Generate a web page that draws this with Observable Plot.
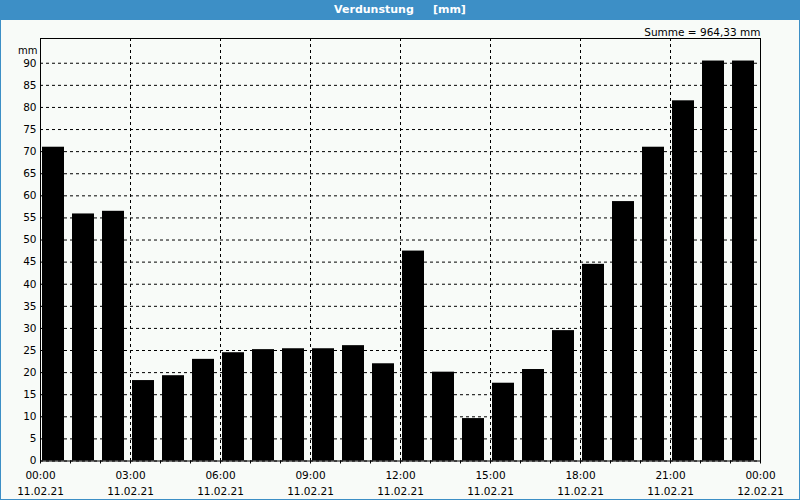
<!DOCTYPE html>
<html>
<head>
<meta charset="utf-8">
<script src="https://cdn.jsdelivr.net/npm/d3@7"></script>
<script src="https://cdn.jsdelivr.net/npm/@observablehq/plot@0.6"></script>
<style>
  html, body { margin: 0; padding: 0; background: #f8fbf8; }
  #wrap { position: relative; width: 800px; height: 500px; box-sizing: border-box; border: 1px solid #3d8fc6; border-top: none; background: #f8fbf8; overflow: hidden; }
  #title { height: 20px; background: #3d8fc6; color: #fff; font: bold 11px "DejaVu Sans", sans-serif; text-align: center; line-height: 20px; margin: 0 -1px; white-space: pre; }
  svg { display: block; }
</style>
</head>
<body>
<div id="wrap">
  <div id="title">Verdunstung     [mm]</div>
  <div id="chart"></div>
</div>
<script>
const day = "2021-02-11";
const hours = ["00:00","01:00","02:00","03:00","04:00","05:00","06:00","07:00","08:00","09:00","10:00","11:00",
               "12:00","13:00","14:00","15:00","16:00","17:00","18:00","19:00","20:00","21:00","22:00","23:00"];
const values = [71.0, 55.9, 56.5, 18.2, 19.3, 23.0, 24.5, 25.2, 25.4, 25.4, 26.1, 22.0,
                47.5, 20.1, 9.6, 17.6, 20.7, 29.5, 44.5, 58.7, 71.0, 81.5, 90.5, 90.5];
const yTicks = [0,5,10,15,20,25,30,35,40,45,50,55,60,65,70,75,80,85,90];
const xStart = "2021-02-11T00:00Z";
const xEnd = "2021-02-12T00:00Z";
const sumLabel = "Summe = 964,33 mm";
const unitLabel = "mm";

const data = hours.map((h, i) => {
  const t0 = new Date(`${day}T${h}Z`);
  return { t0, t1: new Date(+t0 + 3600e3), v: values[i] };
});
const start = new Date(xStart), end = new Date(xEnd);
const majorTicks = d3.utcHour.every(3).range(start, new Date(+end + 1));
const minorTicks = d3.utcHour.range(start, new Date(+end + 1));

const font = '"DejaVu Sans", sans-serif';
const chart = Plot.plot({
  width: 798,
  height: 479,
  marginLeft: 39,
  marginRight: 39,
  marginTop: 18,
  marginBottom: 38.5,
  style: { background: "transparent", fontFamily: font, fontSize: "10.5px", color: "#000" },
  x: { type: "utc", domain: [start, end] },
  y: { domain: [0, 95.6] },
  marks: [
    Plot.gridY(yTicks, { stroke: "#000", strokeOpacity: 1, strokeDasharray: "3,3" }),
    Plot.gridX(majorTicks, { stroke: "#000", strokeOpacity: 1, strokeDasharray: "3,3" }),
    Plot.rectY(data, { x1: "t0", x2: "t1", y: "v", fill: "#000", insetLeft: 2, insetRight: 6 }),
    Plot.frame({ stroke: "#000" }),
    Plot.axisY(yTicks, { tickSize: 0, tickPadding: 4, label: null, fontSize: 10.5 }),
    Plot.axisX(minorTicks, { tickSize: 3, tickFormat: () => "", label: null }),
    Plot.axisX(majorTicks, { tickSize: 0, tickPadding: 11, tickFormat: d3.utcFormat("%H:%M"), label: null }),
    Plot.axisX(majorTicks, { tickSize: 0, tickPadding: 27, tickFormat: d3.utcFormat("%d.%m.%y"), label: null }),
    Plot.text([unitLabel], { frameAnchor: "top-left", textAnchor: "end", dx: -3, dy: 8, fontSize: 10 }),
    Plot.text([sumLabel], { frameAnchor: "top-right", textAnchor: "end", dx: 0, dy: -10, fontSize: 10.5 })
  ]
});
document.getElementById("chart").appendChild(chart);
</script>
</body>
</html>
